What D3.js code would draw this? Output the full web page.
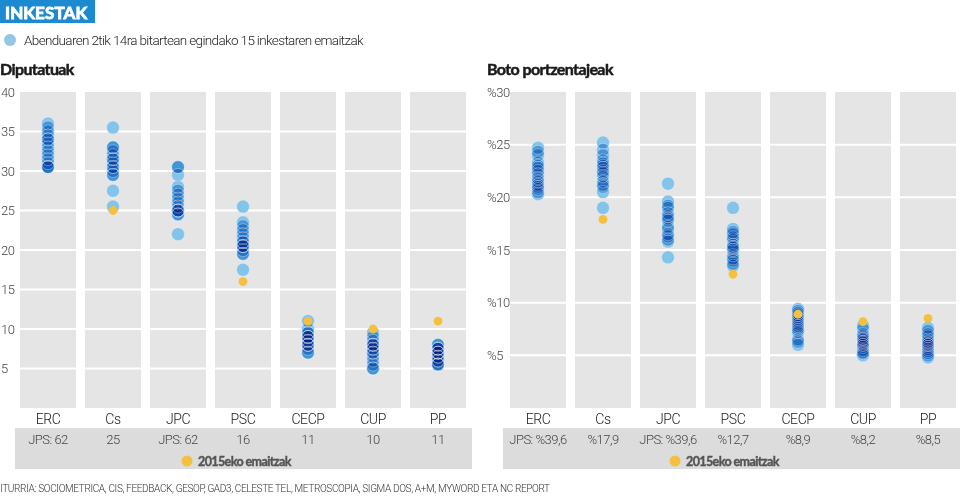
<!DOCTYPE html>
<html>
<head>
<meta charset="utf-8">
<script src="https://cdn.jsdelivr.net/npm/d3@7/dist/d3.min.js"></script>
<style>
  body { margin: 0; background: #fff; }
  svg { display: block; }
  text { font-family: Roboto, sans-serif; font-weight: 300; }
</style>
</head>
<body>
<svg id="chart" width="960" height="500"></svg>
<script>
// ---------- DATA ----------
const parties = ["ERC", "Cs", "JPC", "PSC", "CECP", "CUP", "PP"];

// Diputatuak (seats) – 15 surveys per party
const seatsERC  = [36, 35.5, 35, 34.5, 34, 34, 33.5, 33, 32.5, 32, 31.5, 31, 30.5, 30.5, 30.5];
const seatsCs   = [35.5, 33, 33, 32.5, 32, 31.5, 31.5, 31, 30.5, 30.5, 30, 29.5, 29.5, 27.5, 25.5];
const seatsJPC  = [30.5, 30.5, 29.5, 28, 27.5, 27, 26.5, 26, 25.5, 25, 25, 25, 24.5, 24.5, 22];
const seatsPSC  = [25.5, 23.5, 23, 22.5, 22, 21.5, 21, 21, 20.5, 20.5, 20.5, 20, 19.5, 19.5, 17.5];
const seatsCECP = [11, 10, 9.5, 9.5, 9, 9, 9, 8.5, 8.5, 8, 8, 8, 7.5, 7, 7];
const seatsCUP  = [9.5, 9, 8.5, 8, 8, 8, 7.5, 7.5, 7, 7, 6.5, 6, 5.5, 5, 5];
const seatsPP   = [8, 8, 7.5, 7.5, 7.5, 7, 7, 7, 6.5, 6.5, 6, 6, 5.5, 5.5, 5.5];
const seats2015 = [null, 25, null, 16, 11, 10, 11];
const seatsLabels = ["JPS: 62", "25", "JPS: 62", "16", "11", "10", "11"];
const seatsTicks = [5, 10, 15, 20, 25, 30, 35, 40];

// Boto portzentajeak (vote %) – 15 surveys per party
const voteERC  = [24.7, 24.3, 24, 23.3, 23, 22.8, 22.5, 22.2, 21.8, 21.5, 21.2, 21, 20.8, 20.5, 20.3];
const voteCs   = [25.2, 24.5, 24, 23.5, 23.2, 23, 22.8, 22.5, 22.3, 22, 21.5, 21.2, 21, 20.5, 19];
const voteJPC  = [21.3, 19.6, 19.2, 19, 18.5, 18.2, 18, 17.8, 17.2, 17, 16.5, 16.3, 16, 15.8, 14.3];
const votePSC  = [19, 17, 16.7, 16.5, 16.2, 16, 15.5, 15.3, 15.2, 15, 14.5, 14.2, 14, 13.7, 13.5];
const voteCECP = [9.4, 9.2, 9, 8.8, 8.6, 8.4, 8.2, 8, 7.8, 7.6, 7.4, 7.2, 6.5, 6.3, 6];
const voteCUP  = [7.8, 7.5, 7, 6.8, 6.6, 6.5, 6.3, 6.2, 6, 6, 5.8, 5.5, 5.3, 5.2, 5];
const votePP   = [7.6, 7.3, 7, 6.8, 6.5, 6.3, 6.2, 6, 6, 5.8, 5.6, 5.4, 5.2, 5, 4.8];
const vote2015 = [null, 17.9, null, 12.7, 8.9, 8.2, 8.5];
const voteLabels = ["JPS: %39,6", "%17,9", "JPS: %39,6", "%12,7", "%8,9", "%8,2", "%8,5"];
const voteTicks = [5, 10, 15, 20, 25, 30];

const titleText = "INKESTAK";
const legendText = "Abenduaren 2tik 14ra bitartean egindako 15 inkestaren emaitzak";
const resultsLegend = "2015eko emaitzak";
const sourceText = "ITURRIA: SOCIOMETRICA, CIS, FEEDBACK, GESOP, GAD3, CELESTE TEL, METROSCOPIA, SIGMA DOS, A+M, MYWORD ETA NC REPORT";

// ---------- DRAW ----------
const svg = d3.select("#chart");
const BLUE = "#1b8ad0";
const DOT = "#84c3ea";
const YELLOW = "#f4c03e";

// header
svg.append("rect").attr("x", 0).attr("y", 0).attr("width", 95).attr("height", 23).attr("fill", BLUE);
svg.append("text").attr("x", 5).attr("y", 18.5).text(titleText)
  .attr("fill", "#fff").attr("stroke", "#fff").attr("stroke-width", 0.9)
  .attr("font-size", 17).style("font-weight", 700)
  .style("font-family", "Lato, sans-serif").attr("letter-spacing", 0.1);
svg.append("circle").attr("cx", 10).attr("cy", 40).attr("r", 6).attr("fill", "#92c8e6");
svg.append("text").attr("x", 24).attr("y", 45).text(legendText)
  .attr("fill", "#222").attr("font-size", 13.5).attr("letter-spacing", -0.65);

svg.append("text").attr("x", 0).attr("y", 492).text(sourceText)
  .attr("fill", "#333").attr("font-size", 10).attr("letter-spacing", -0.35);

function drawChart(cfg) {
  const g = svg.append("g");
  g.append("text").attr("x", cfg.titleX).attr("y", 75).text(cfg.title)
    .attr("fill", "#1a1a1a").attr("stroke", "#1a1a1a").attr("stroke-width", 0.5)
    .attr("font-size", 16).style("font-weight", 700)
    .style("font-family", "Lato, sans-serif").attr("letter-spacing", -0.6);

  const x = d3.scaleBand().domain(parties).range(cfg.xRange).paddingInner(9 / 65).paddingOuter(0);
  const y = d3.scaleLinear().domain([0, cfg.max]).range([408, 92]);

  // panels
  g.selectAll("rect.panel").data(parties).join("rect").attr("class", "panel")
    .attr("x", d => x(d)).attr("y", y(cfg.max)).attr("width", x.bandwidth())
    .attr("height", y(0) - y(cfg.max)).attr("fill", "#e5e5e5");

  // gridlines
  parties.forEach(p => {
    g.selectAll(null).data(cfg.ticks.filter(t => t < cfg.max)).join("line")
      .attr("x1", x(p)).attr("x2", x(p) + x.bandwidth())
      .attr("y1", d => y(d)).attr("y2", d => y(d))
      .attr("stroke", "#fff").attr("stroke-width", 2);
  });

  // y axis
  const ax = g.append("g").attr("transform", `translate(${cfg.axisX},0)`)
    .call(d3.axisLeft(y).tickValues(cfg.ticks).tickSize(0).tickFormat(cfg.fmt));
  ax.select(".domain").remove();
  ax.selectAll("text").attr("x", 0).attr("text-anchor", "start")
    .attr("fill", "#444").attr("font-size", 13).attr("letter-spacing", -0.4)
    .style("font-family", "Roboto, sans-serif").style("font-weight", 300);

  // category axis
  const cx = g.append("g").attr("transform", "translate(0,408)")
    .call(d3.axisBottom(x).tickSize(0).tickPadding(6));
  cx.select(".domain").remove();
  cx.selectAll("text").attr("fill", "#222").attr("font-size", 14).attr("letter-spacing", -0.4)
    .style("font-family", "Roboto, sans-serif").style("font-weight", 300);

  // results band
  g.append("rect").attr("x", cfg.bandX[0]).attr("y", 428).attr("width", cfg.bandX[1] - cfg.bandX[0])
    .attr("height", 41).attr("fill", "#dcdcdc");
  g.selectAll("text.res").data(cfg.labels).join("text").attr("class", "res")
    .attr("x", (d, i) => x(parties[i]) + x.bandwidth() / 2).attr("y", 444)
    .attr("text-anchor", "middle").attr("fill", "#444").attr("font-size", 13)
    .attr("letter-spacing", -0.5).text(d => d);
  g.append("circle").attr("cx", cfg.legX).attr("cy", 461).attr("r", 5.5).attr("fill", YELLOW);
  g.append("text").attr("x", cfg.legX + 11).attr("y", 465.5).text(resultsLegend)
    .attr("fill", "#555").attr("stroke", "#555").attr("stroke-width", 0.4)
    .attr("font-size", 12.5).style("font-weight", 700)
    .style("font-family", "Lato, sans-serif").attr("letter-spacing", -0.6);

  // survey dots (multiply blend so overlaps darken)
  const pts = [];
  cfg.series.forEach((arr, i) => arr.forEach(v => pts.push({ p: parties[i], v })));
  const dots = g.append("g").style("isolation", "isolate");
  dots.selectAll("circle").data(pts).join("circle")
    .attr("cx", d => x(d.p) + x.bandwidth() / 2).attr("cy", d => y(d.v)).attr("r", 6.5)
    .attr("fill", DOT).style("mix-blend-mode", "multiply");
  dots.selectAll("circle.ring").data(pts).join("circle").attr("class", "ring")
    .attr("cx", d => x(d.p) + x.bandwidth() / 2).attr("cy", d => y(d.v)).attr("r", 6.5)
    .attr("fill", "none").attr("stroke", "#fff").attr("stroke-opacity", 0.4).attr("stroke-width", 0.8);

  // 2015 results
  const res = cfg.results.map((v, i) => ({ p: parties[i], v })).filter(d => d.v !== null);
  g.selectAll("circle.r15").data(res).join("circle").attr("class", "r15")
    .attr("cx", d => x(d.p) + x.bandwidth() / 2).attr("cy", d => y(d.v)).attr("r", 4.4)
    .attr("fill", YELLOW);
}

drawChart({
  title: "Diputatuak", titleX: 0, axisX: 1, max: 40, ticks: seatsTicks, fmt: d => d,
  xRange: [20, 466], bandX: [15, 472], legX: 187, labels: seatsLabels,
  series: [seatsERC, seatsCs, seatsJPC, seatsPSC, seatsCECP, seatsCUP, seatsPP], results: seats2015
});
drawChart({
  title: "Boto portzentajeak", titleX: 487, axisX: 487, max: 30, ticks: voteTicks, fmt: d => "%" + d,
  xRange: [510, 956], bandX: [503, 960], legX: 675, labels: voteLabels,
  series: [voteERC, voteCs, voteJPC, votePSC, voteCECP, voteCUP, votePP], results: vote2015
});
</script>
</body>
</html>
